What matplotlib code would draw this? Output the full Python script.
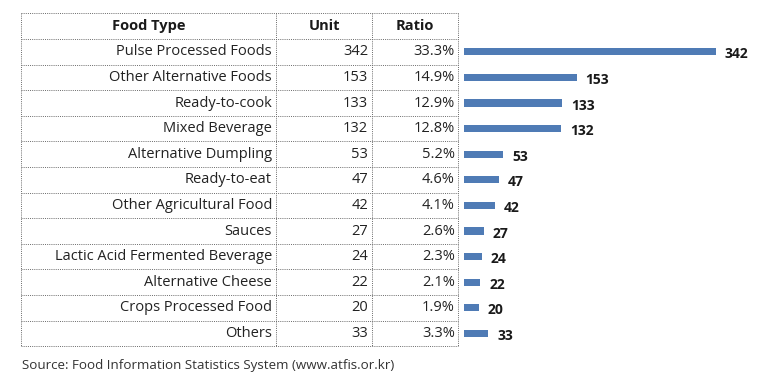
import matplotlib
matplotlib.use("Agg")
import matplotlib.pyplot as plt

categories = ["Pulse Processed Foods", "Other Alternative Foods", "Ready-to-cook",
              "Mixed Beverage", "Alternative Dumpling", "Ready-to-eat",
              "Other Agricultural Food", "Sauces", "Lactic Acid Fermented Beverage",
              "Alternative Cheese", "Crops Processed Food", "Others"]
units = [342, 153, 133, 132, 53, 47, 42, 27, 24, 22, 20, 33]
ratios = ["33.3%", "14.9%", "12.9%", "12.8%", "5.2%", "4.6%", "4.1%", "2.6%",
          "2.3%", "2.1%", "1.9%", "3.3%"]
headers = ["Food Type", "Unit", "Ratio"]
source = "Source: Food Information Statistics System (www.atfis.or.kr)"

W, H = 780, 392
plt.rcParams['font.family'] = ['Open Sans', 'DejaVu Sans']
fig = plt.figure(figsize=(W / 100, H / 100), dpi=100)

# table axes in pixel coordinates
tab = fig.add_axes([0, 0, 1, 1])
tab.set_xlim(0, W)
tab.set_ylim(H, 0)
tab.axis("off")

top, hdr_h, row_h = 13, 26, 25.6
col_edges = [21, 276, 372, 458]
n = len(categories)
bottom = top + hdr_h + row_h * n

line_kw = dict(color="#6a6a6a", lw=0.7, linestyle=(0, (1, 1.2)))
ys = [top, top + hdr_h] + [top + hdr_h + row_h * (i + 1) for i in range(n)]
for y in ys:
    tab.plot([col_edges[0], col_edges[-1]], [y, y], **line_kw)
for x in col_edges:
    tab.plot([x, x], [top, bottom], **line_kw)

hy = top + hdr_h / 2
for j, h in enumerate(headers):
    cx = (col_edges[j] + col_edges[j + 1]) / 2
    tab.text(cx, hy, h, ha="center", va="center", fontsize=10.5,
             fontweight="bold", color="#1a1a1a")

for i in range(n):
    cy = top + hdr_h + row_h * (i + 0.5)
    tab.text(col_edges[1] - 4, cy, categories[i], ha="right", va="center",
             fontsize=10.5, color="#222222")
    tab.text(col_edges[2] - 4, cy, str(units[i]), ha="right", va="center",
             fontsize=10.5, color="#222222")
    tab.text(col_edges[3] - 3, cy, ratios[i], ha="right", va="center",
             fontsize=10.5, color="#222222")

tab.text(22, 366, source, ha="left", va="center", fontsize=9.6, color="#333333")

# bar axes aligned to rows
bx0, bw = 464, 300
by0 = top + hdr_h
bh = row_h * n
bar_ax = fig.add_axes([bx0 / W, 1 - (by0 + bh) / H, bw / W, bh / H])
bar_ax.set_xlim(0, bw / 0.737)
bar_ax.set_ylim(n - 0.5, -0.5)
bar_ax.axis("off")
pos = list(range(n))
bar_ax.barh(pos, units, height=0.28, color="#4f7bb5")
for i, v in enumerate(units):
    bar_ax.text(v + 12, i + 0.1, str(v), ha="left", va="center", fontsize=10,
                fontweight="bold", color="#1a1a1a")

fig.savefig("out.png", dpi=100)
